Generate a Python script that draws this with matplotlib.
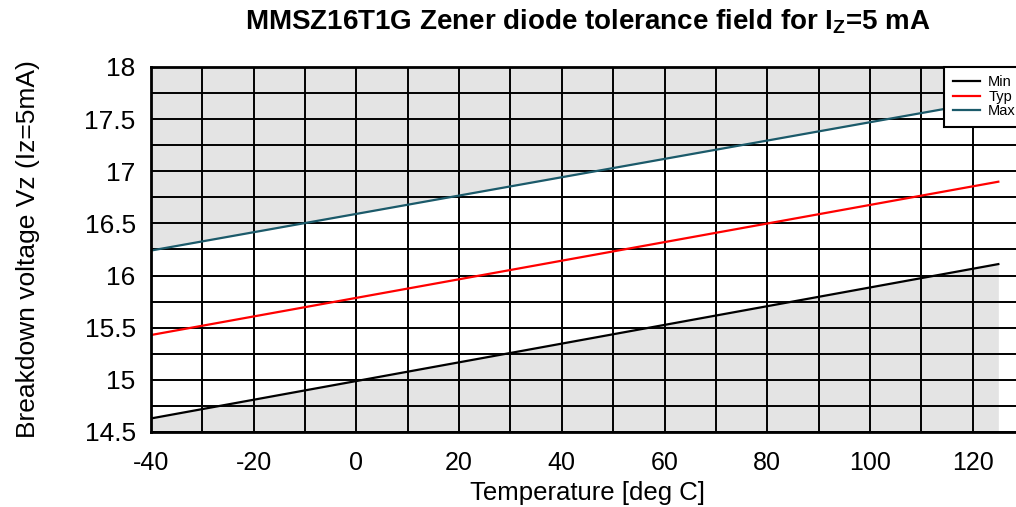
import matplotlib
matplotlib.use("Agg")
import matplotlib.pyplot as plt
from matplotlib.ticker import MultipleLocator

plt.rcParams['font.family'] = ['Liberation Sans', 'DejaVu Sans']
plt.rcParams['axes.unicode_minus'] = False

# Zener breakdown voltage vs temperature (end points of straight lines)
temps = [-40, 125]
v_min = [14.63, 16.11]
v_typ = [15.43, 16.90]
v_max = [16.24, 17.69]

x_ticks = [-40, -20, 0, 20, 40, 60, 80, 100, 120]
y_ticks = [14.5, 15, 15.5, 16, 16.5, 17, 17.5, 18]
y_tick_labels = ['14.5', '15', '15.5', '16', '16.5', '17', '17.5', '18']

fig = plt.figure(figsize=(10.16, 5.07), dpi=100)
ax = fig.add_axes([151 / 1016, 75 / 507, 873 / 1016, 365 / 507])

# grey areas outside the tolerance field
ax.fill_between(temps, v_max, 18, color='#e4e4e4', lw=0, zorder=0)
ax.fill_between(temps, 14.5, v_min, color='#e4e4e4', lw=0, zorder=0)

ax.plot(temps, v_min, color='black', lw=1.6, label='Min', zorder=3)
ax.plot(temps, v_typ, color='#ff0000', lw=1.6, label='Typ', zorder=3)
ax.plot(temps, v_max, color='#1b5a6a', lw=1.6, label='Max', zorder=3)

ax.set_xlim(-40, 130)
ax.set_ylim(14.5, 18)
ax.xaxis.set_minor_locator(MultipleLocator(10))
ax.yaxis.set_minor_locator(MultipleLocator(0.25))
ax.set_xticks(x_ticks)
ax.set_yticks(y_ticks)
ax.set_yticklabels(y_tick_labels)
ax.grid(which='both', color='black', lw=1.4, zorder=1)
ax.tick_params(which='both', length=0)
ax.tick_params(axis='y', labelsize=19, pad=11)
ax.tick_params(axis='x', labelsize=18, pad=14)
for s in ax.spines.values():
    s.set_linewidth(2)
    s.set_zorder(4)

ax.set_xlabel('Temperature [deg C]', fontsize=18.5, labelpad=4)
ax.set_ylabel('Breakdown voltage Vz (Iz=5mA)', fontsize=19, labelpad=32)
ax.set_title('MMSZ16T1G Zener diode tolerance field for I$_\\mathregular{Z}$=5 mA',
             fontsize=20, fontweight='bold', pad=27)

leg = ax.legend(loc='upper right', fontsize=10.5, fancybox=False, framealpha=1,
                edgecolor='black', borderaxespad=0, handlelength=1.9,
                handletextpad=0.55, labelspacing=0.05, borderpad=0.55)
leg.get_frame().set_linewidth(1.5)
leg.set_zorder(5)

fig.savefig('out.png', dpi=100)
